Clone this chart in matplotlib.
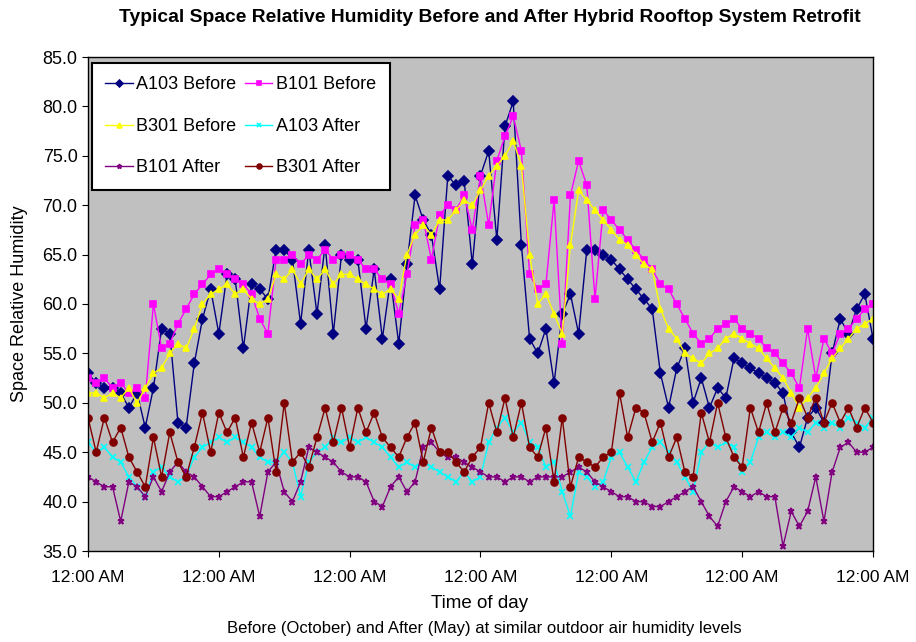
"""
Space relative humidity before / after hybrid rooftop retrofit.
Saves out.png
"""
import numpy as np
import matplotlib
matplotlib.use("Agg")
import matplotlib.pyplot as plt

plt.rcParams["font.family"] = ["Liberation Sans", "DejaVu Sans"]

# time grid: one reading every 1.5 h over six days
hours = np.arange(0, 145, 1.5)

a103_before = [
    53, 52, 51.5, 51.5, 51, 49.5, 51, 47.5, 51.5, 57.5, 57, 48, 47.5, 54, 58.5, 61.5,
    57, 63, 62.5, 55.5, 62, 61.5, 60.5, 65.5, 65.5, 64.5, 58, 65.5, 59, 66, 57, 65,
    64.5, 64.5, 57.5, 63.5, 56.5, 62.5, 56, 64, 71, 68.5, 67, 61.5, 73, 72, 72.5, 64,
    73, 75.5, 66.5, 78, 80.5, 66, 56.5, 55, 57.5, 52, 59, 61, 57, 65.5, 65.5, 65,
    64.5, 63.5, 62.5, 61.5, 60.5, 59.5, 53, 49.5, 53.5, 55.5, 50, 52.5, 49.5, 51.5, 50.5, 54.5,
    54, 53.5, 53, 52.5, 52, 51, 47, 45.5, 48.5, 49.5, 48, 55, 58.5, 57, 59.5, 61,
    56.5,
]
b101_before = [
    52.5, 52, 52.5, 51.5, 52, 51, 51.5, 50.5, 60, 55.5, 56, 58, 59.5, 61, 62, 63,
    63.5, 63, 62.5, 62, 61, 58.5, 57, 64.5, 64.5, 65, 64, 65, 64.5, 65.5, 64.5, 65,
    65, 64.5, 63.5, 63.5, 62.5, 62, 59, 63, 68, 68.5, 64.5, 69, 70, 69.5, 71, 67.5,
    73, 68, 74.5, 77, 79, 75.5, 63, 61.5, 62, 70.5, 56, 71, 74.5, 72, 60.5, 69.5,
    68.5, 67.5, 66.5, 65.5, 64.5, 63.5, 62, 61.5, 60, 58.5, 57, 56, 56.5, 57.5, 58, 58.5,
    57.5, 57, 56.5, 55.5, 55, 54, 53, 51.5, 57.5, 52.5, 56.5, 55, 57, 57.5, 58.5, 59.5,
    60,
]
b301_before = [
    51, 51, 50.5, 51, 50.5, 51.5, 50, 51.5, 53, 53.5, 55, 56, 55.5, 57.5, 60, 61,
    61.5, 62, 61, 61.5, 60.5, 60, 60.5, 63, 62.5, 63.5, 62, 63.5, 62.5, 63.5, 62, 63,
    63, 62.5, 62, 61.5, 61, 61.5, 60.5, 65, 67, 68, 67, 68.5, 68.5, 69.5, 70.5, 70,
    71.5, 73, 74, 75, 76.5, 74, 65, 60, 61, 59, 57, 66, 71.5, 70.5, 69.5, 68.5,
    67.5, 66.5, 66, 65, 64, 63.5, 59.5, 57.5, 56.5, 55, 54.5, 54, 55, 55.5, 56.5, 57,
    56.5, 56, 55.5, 54.5, 53.5, 52.5, 51, 49.5, 50.5, 51.5, 53, 54.5, 55.5, 56.5, 57.5, 58,
    58.5,
]
a103_after = [
    46, 45, 45.5, 44.5, 44, 42.5, 41.5, 40.5, 43, 43.5, 42.5, 42, 42.5, 44.5, 45.5, 46,
    46.5, 46, 46.5, 46, 45.5, 44.5, 44, 44, 45, 44, 40.5, 44, 45, 45.5, 46.5, 46,
    46.5, 46, 46.5, 46, 45.5, 44.5, 43.5, 44, 43.5, 44, 43.5, 43, 42.5, 42, 43, 42,
    42.5, 46, 47.5, 48.5, 47, 48, 46, 45.5, 43.5, 44, 41, 38.5, 43, 42.5, 41.5, 42,
    44.5, 45, 43.5, 42, 44, 45.5, 46, 45, 44, 42.5, 41, 45, 46, 45.5, 46, 45.5,
    43, 44, 46.5, 47, 46.5, 47, 46.5, 47.5, 47, 48, 47.5, 48, 47.5, 48.5, 48, 47.5,
    48.5,
]
b101_after = [
    42.5, 42, 41.5, 41.5, 38, 42, 41.5, 40.5, 42.5, 41, 43, 44, 43, 42.5, 41.5, 40.5,
    40.5, 41, 41.5, 42, 42, 38.5, 43, 44, 41, 40, 42, 45.5, 45, 44.5, 44, 43,
    42.5, 42.5, 42, 40, 39.5, 41.5, 42.5, 41, 42, 45.5, 46, 45, 44.5, 44.5, 44, 43.5,
    43, 42.5, 42.5, 42, 42.5, 42.5, 42, 42.5, 42.5, 42.5, 42.5, 43, 43.5, 43, 42, 41.5,
    41, 40.5, 40.5, 40, 40, 39.5, 39.5, 40, 40.5, 41, 41.5, 40, 38.5, 37.5, 40, 41.5,
    41, 40.5, 41, 40.5, 40.5, 35.5, 39, 37.5, 39, 42.5, 38, 43, 45.5, 46, 45, 45,
    45.5,
]
b301_after = [
    48.5, 45, 48.5, 46, 47.5, 44.5, 43, 41.5, 46.5, 42.5, 47, 44, 42.5, 45.5, 49, 45,
    49, 47, 48.5, 44.5, 48, 45, 48.5, 43, 50, 44, 45, 43.5, 46.5, 49.5, 46, 49.5,
    45.5, 49.5, 47, 49, 46.5, 45.5, 44.5, 46.5, 48, 44, 47.5, 45, 45, 44, 43, 44.5,
    45.5, 50, 47, 50.5, 46.5, 50, 45.5, 44.5, 47.5, 42, 48.5, 41.5, 44.5, 44, 43.5, 44.5,
    45, 51, 46.5, 49.5, 49, 46, 48, 44.5, 46.5, 43, 42.5, 49, 46, 50, 46.5, 44.5,
    43.5, 49.5, 47, 50, 47, 49.5, 48, 50.5, 48.5, 50.5, 48, 50, 48, 49.5, 47.5, 49.5,
    48,
]

series = [
    ("A103 Before", a103_before, "#000080", "D"),
    ("B101 Before", b101_before, "#FF00FF", "s"),
    ("B301 Before", b301_before, "#FFFF00", "^"),
    ("A103 After", a103_after, "#00FFFF", "x"),
    ("B101 After", b101_after, "#800080", "*"),
    ("B301 After", b301_after, "#800000", "o"),
]

fig = plt.figure(figsize=(9.16, 6.42), dpi=100)
ax = fig.add_axes([88 / 916, 1 - 551 / 642, (873 - 88) / 916, (551 - 57) / 642])
ax.set_facecolor("#C0C0C0")

handles = []
for name, vals, col, mk in series:
    ln, = ax.plot(hours, vals, color=col, marker=mk, markersize=5, linewidth=1,
                  markeredgewidth=1.2, label=name)
    handles.append(ln)

ax.set_xlim(0, 144)
ax.set_ylim(35, 85)
ax.set_yticks(np.arange(35, 86, 5))
ax.set_yticklabels([f"{v:.1f}" for v in np.arange(35, 86, 5)], fontsize=13)
ax.set_xticks(np.arange(0, 145, 24))
ax.set_xticklabels(["12:00 AM"] * 7, fontsize=12.5)
ax.tick_params(direction="out", length=4, color="black")
ax.tick_params(axis="x", pad=10)
for s in ax.spines.values():
    s.set_color("black")
    s.set_linewidth(1)

ax.set_ylabel("Space Relative Humidity", fontsize=13)
ax.yaxis.set_label_coords(-0.076, 0.5)
fig.text(480 / 916, 1 - 604 / 642, "Time of day", ha="center", va="center", fontsize=13.5)
fig.text(484 / 916, 1 - 628 / 642,
         "Before (October) and After (May) at similar outdoor air humidity levels",
         ha="center", va="center", fontsize=12)
fig.text(490 / 916, 1 - 17 / 642,
         "Typical Space Relative Humidity Before and After Hybrid Rooftop System Retrofit",
         ha="center", va="center", fontsize=13.9, fontweight="bold")

# legend fills row-wise in the original, so reorder for matplotlib's column fill
order = [0, 2, 4, 1, 3, 5]
leg = ax.legend([handles[i] for i in order], [series[i][0] for i in order],
                loc="upper left", ncol=2, fontsize=13, frameon=True, fancybox=False,
                borderpad=0.75, labelspacing=1.35, columnspacing=0.5, handlelength=1.5,
                handletextpad=0.2, markerscale=0.7, borderaxespad=0,
                bbox_to_anchor=(0.005, 0.988))
leg.get_frame().set_edgecolor("black")
leg.get_frame().set_linewidth(1.5)
leg.get_frame().set_facecolor("white")
leg.get_frame().set_alpha(1)

fig.savefig("out.png", dpi=100)
print("Saved: out.png")
